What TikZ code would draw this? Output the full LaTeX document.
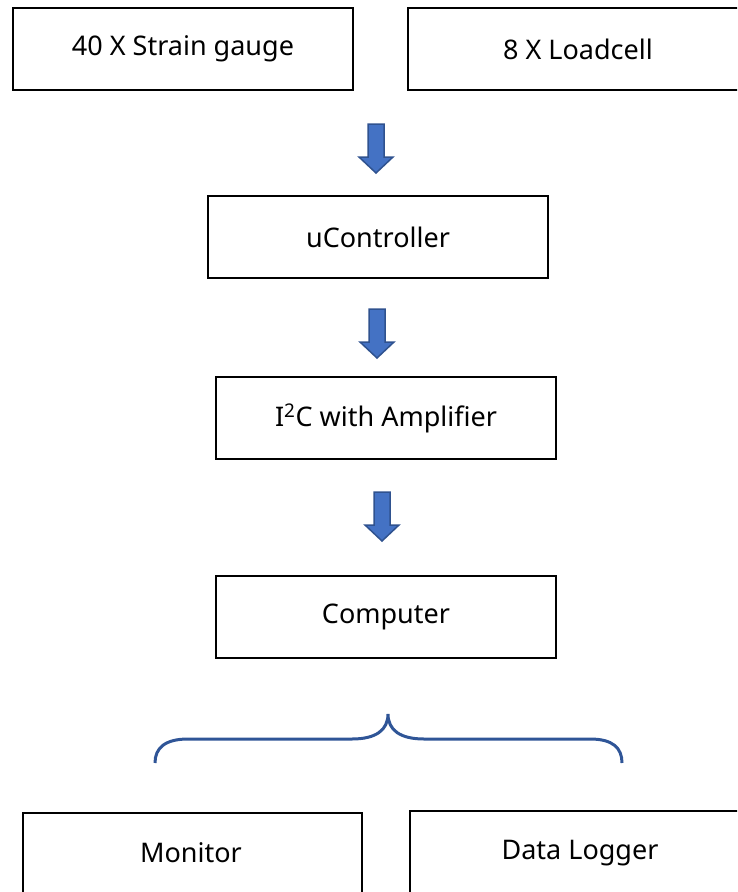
\documentclass[tikz,border=0pt]{standalone}
\usepackage{fontspec}
\setmainfont{Noto Sans}
\begin{document}
\begin{tikzpicture}[x=1pt,y=-1pt,
  lbl/.style={font=\fontsize{27}{31}\selectfont},
  box/.style={draw=black, line width=2pt, fill=white, inner sep=0pt, lbl},
  blockarrow/.style={fill=arrowfill, draw=arrowedge, line width=1.5pt, line join=miter},
  bracestyle/.style={draw=braceblue, line width=3pt, line cap=butt}]
\definecolor{arrowfill}{HTML}{4472C4}
\definecolor{arrowedge}{HTML}{2F528F}
\definecolor{braceblue}{HTML}{2F5597}
\useasboundingbox (0,0) rectangle (737,892);
\clip (0,0) rectangle (737,892);

% sensor boxes
\node[box, minimum width=340pt, minimum height=82pt] (strain) at (183,49) {40 X Strain gauge};
\node[box, minimum width=340pt, minimum height=82pt, anchor=west] (load) at (407,49) {8 X Loadcell};
% processing chain
\node[box, minimum width=340pt, minimum height=82pt] (uc) at (378,237) {uController};
\node[box, minimum width=340pt, minimum height=82pt] (i2c) at (386,418) {I\textsuperscript{2}C with Amplifier};
\node[box, minimum width=340pt, minimum height=82pt] (pc) at (386,617) {Computer};
% outputs
\node[box, minimum width=339pt, minimum height=100pt, anchor=north west] (mon) at (22,812) {};
\node[lbl] (monlabel) at (191,853) {Monitor};
\node[box, minimum width=340pt, minimum height=100pt, anchor=north west] (dl) at (409,810) {};
\node[lbl] (dllabel) at (580,853) {Data Logger};

% block arrows between stages
\coordinate (a1) at (376,124);
\coordinate (a2) at (377,309);
\coordinate (a3) at (382,492);
\foreach \a in {a1,a2,a3}{
  \draw[blockarrow] (\a) ++(-8,0) -- ++(16,0) -- ++(0,33) -- ++(9,0)
    -- ++(-17,16) -- ++(-17,-16) -- ++(9,0) -- cycle;
}

% brace fanning out from the computer
\coordinate (btip) at (388,714);
\draw[bracestyle] (155,763) .. controls (155,748) and (165,739) .. (188,739)
  -- (352,739) .. controls (376,739) and (388,730) .. (btip)
  .. controls (388,730) and (400,739) .. (424,739)
  -- (590,739) .. controls (613,739) and (622,748) .. (622,763);
\end{tikzpicture}
\end{document}
